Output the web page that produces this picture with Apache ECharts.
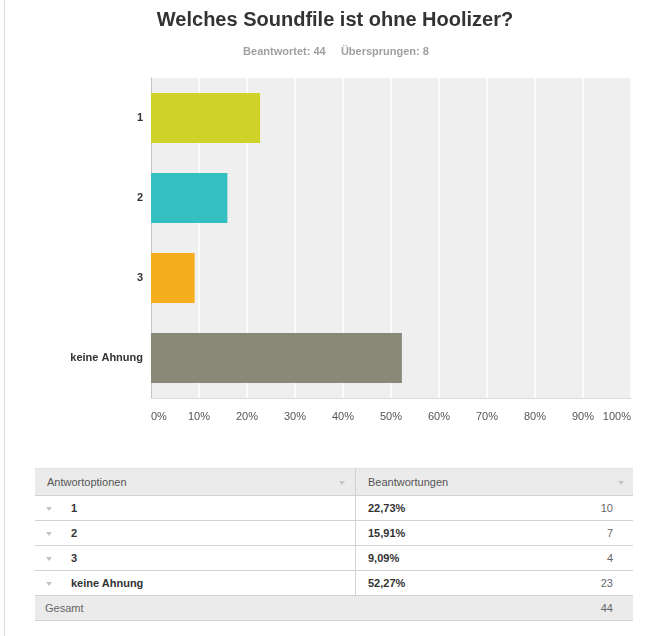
<!DOCTYPE html>
<html><head><meta charset="utf-8">
<script src="https://cdn.jsdelivr.net/npm/echarts@6/dist/echarts.min.js"></script>
<style>
html,body{margin:0;padding:0;background:#fff;}
#chart{position:absolute;left:0;top:0;width:653px;height:460px;}
#frame{position:absolute;left:4px;top:0;width:1px;height:636px;background:#dcdcdc;}
#table{position:absolute;left:35px;top:468px;width:598px;height:153px;font-family:Arial,"Liberation Sans",sans-serif;font-size:11px;}
.row{position:absolute;left:0;width:598px;box-sizing:border-box;border-bottom:1px solid #d2d2d2;}
.cell{position:absolute;top:0;white-space:nowrap;}
.tri{position:absolute;width:0;height:0;border-left:3px solid transparent;border-right:3px solid transparent;border-top:4px solid #c4c4c4;}
#divider{position:absolute;left:320px;top:0;width:1px;height:127px;background:#d2d2d2;}
</style>
</head><body>
<div id="frame"></div>
<div id="chart"></div>
<div id="table"></div>
<script>
var titleText = 'Welches Soundfile ist ohne Hoolizer?';
var subtitleText = 'Beantwortet: 44     Übersprungen: 8';
var categories = ['1', '2', '3', 'keine Ahnung'];
var percentValues = [22.73, 15.91, 9.09, 52.27];
var responseCounts = [10, 7, 4, 23];
var totalCount = 44;
var barColors = ['#cfd329', '#34bfc0', '#f6ae1e', '#888979'];
var headerLabels = ['Antwortoptionen', 'Beantwortungen'];
var totalLabel = 'Gesamt';

var chart = echarts.init(document.getElementById('chart'), null, {renderer: 'canvas'});
chart.setOption({
  animation: false,
  graphic: [
    {type: 'text', x: 335, y: 20, style: {text: titleText, fill: '#333', font: 'bold 20px Arial, "Liberation Sans", sans-serif', align: 'center', verticalAlign: 'middle'}},
    {type: 'text', x: 336, y: 52, style: {text: subtitleText, fill: '#a0a0a0', font: 'bold 11px Arial, "Liberation Sans", sans-serif', align: 'center', verticalAlign: 'middle'}}
  ],
  grid: {left: 151, right: 22, top: 78, height: 320, show: true, backgroundColor: '#efefef', borderWidth: 0},
  xAxis: {
    type: 'value', min: 0, max: 100, interval: 10,
    axisLine: {show: true, lineStyle: {color: '#dcdcdc'}},
    axisTick: {show: false},
    splitLine: {show: true, lineStyle: {color: '#ffffff', width: 1.5}},
    axisLabel: {formatter: '{value}%', color: '#555', fontSize: 11, fontFamily: 'Arial, "Liberation Sans", sans-serif', margin: 13, alignMinLabel: 'left', alignMaxLabel: 'right'}
  },
  yAxis: {
    type: 'category', data: categories, inverse: true,
    axisLine: {show: true, lineStyle: {color: '#c4c4c4'}},
    axisTick: {show: false},
    axisLabel: {color: '#333', fontWeight: 'bold', fontSize: 11, fontFamily: 'Arial, "Liberation Sans", sans-serif', margin: 8}
  },
  series: [{
    type: 'bar',
    barWidth: 50,
    data: percentValues.map(function (v, i) { return {value: v, itemStyle: {color: barColors[i]}}; })
  }]
});

function fmtPct(v) { return v.toFixed(2).replace('.', ',') + '%'; }
var tableEl = document.getElementById('table');
var html = '';
html += '<div class="row" style="top:0;height:28px;background:#ebebeb;border-top:1px solid #e2e2e2;">' +
  '<div class="cell" style="left:12px;line-height:27px;color:#555;">' + headerLabels[0] + '</div>' +
  '<div class="tri" style="left:304px;top:12px;"></div>' +
  '<div class="cell" style="left:333px;line-height:27px;color:#555;">' + headerLabels[1] + '</div>' +
  '<div class="tri" style="left:583px;top:12px;"></div></div>';
for (var i = 0; i < categories.length; i++) {
  var rowTop = 28 + 25 * i;
  html += '<div class="row" style="top:' + rowTop + 'px;height:25px;">' +
    '<div class="tri" style="left:11px;top:11px;"></div>' +
    '<div class="cell" style="left:36px;line-height:24px;color:#333;font-weight:bold;">' + categories[i] + '</div>' +
    '<div class="cell" style="left:333px;line-height:24px;color:#333;font-weight:bold;">' + fmtPct(percentValues[i]) + '</div>' +
    '<div class="cell" style="right:20px;line-height:24px;color:#666;">' + responseCounts[i] + '</div></div>';
}
html += '<div class="row" style="top:128px;height:25px;background:#ebebeb;">' +
  '<div class="cell" style="left:10px;line-height:24px;color:#666;">' + totalLabel + '</div>' +
  '<div class="cell" style="right:20px;line-height:24px;color:#666;">' + totalCount + '</div></div>';
html += '<div id="divider"></div>';
tableEl.innerHTML = html;
</script>
</body></html>
